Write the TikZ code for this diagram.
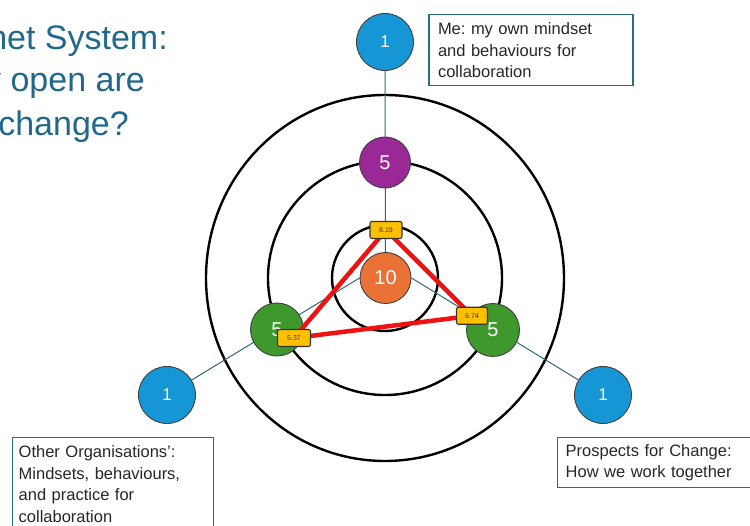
\documentclass[tikz,border=0pt]{standalone}
\usepackage{fontspec}
\setmainfont{Liberation Sans}
\frenchspacing

\definecolor{titleblue}{RGB}{33,104,138}
\definecolor{linkteal}{RGB}{46,104,124}
\definecolor{boxteal}{RGB}{44,108,128}
\definecolor{pinblue}{RGB}{22,150,212}
\definecolor{pinpurple}{RGB}{154,40,150}
\definecolor{pingreen}{RGB}{62,152,44}
\definecolor{pinorange}{RGB}{234,114,55}
\definecolor{scoreamber}{RGB}{255,192,0}
\definecolor{triangred}{RGB}{238,18,18}

\pgfdeclarelayer{rings}
\pgfdeclarelayer{tri}
\pgfdeclarelayer{tags}
\pgfsetlayers{rings,main,tri,tags}

\tikzset{
  ring/.style={draw=black, line width=2.4pt},
  link/.style={draw=linkteal, line width=1pt},
  pin/.style={circle, draw=black!75, line width=0.9pt, inner sep=0pt, text=white},
  bluepin/.style={pin, fill=pinblue, minimum size=57pt, font=\fontsize{17}{19}\selectfont},
  scorepin/.style={pin, minimum size=51pt, font=\fontsize{20}{22}\selectfont},
  scoretag/.style={draw=black!80, fill=scoreamber, rounded corners=2pt, line width=1.1pt,
    minimum width=32pt, minimum height=17pt, inner sep=0pt,
    font=\fontsize{7}{8}\selectfont, text=black!80},
  note/.style={draw=boxteal, line width=1.4pt, align=left,
    font=\fontsize{16.5}{21.5}\selectfont, text=black!85},
  title/.style={anchor=base east, inner sep=0pt, text=titleblue,
    font=\fontsize{34}{40}\selectfont},
  triedge/.style={draw=triangred, line width=4.5pt, line cap=round}
}

\begin{document}
\begin{tikzpicture}[x=1pt,y=-1pt]
\useasboundingbox (0,0) rectangle (750,526);

% title lines
\node[title] (t1) at (168,50) {net System:};
\node[title] (t2) at (145,92) {y open are};
\node[title] (t3) at (129,136) {change?};

% concentric rings
\begin{pgfonlayer}{rings}
  \draw[ring] (385,278) ellipse [x radius=179pt, y radius=183pt];
  \draw[ring] (385,278) circle [radius=117pt];
  \draw[ring] (385,278) circle [radius=53pt];
\end{pgfonlayer}

% score circles
\node[bluepin] (bT) at (385,42) {1};
\node[bluepin] (bL) at (167,395) {1};
\node[bluepin] (bR) at (603,395) {1};
\node[scorepin, fill=pinpurple] (pu) at (385,162.5) {5};
\node[scorepin, fill=pinorange] (or) at (385.5,278) {10};
\node[scorepin, fill=pingreen, minimum size=53pt] (gL) at (277,329.5) {5};
\node[scorepin, fill=pingreen, minimum size=53pt] (gR) at (493,330) {5};

% spokes
\begin{pgfonlayer}{rings}
  \draw[link] (bT) -- (or.north);
  \draw[link] (or.west) -- (bL);
  \draw[link] (or.east) -- (bR);
\end{pgfonlayer}

% score tags
\begin{pgfonlayer}{tags}
  \node[scoretag] (s1) at (386,230) {8.19};
  \node[scoretag, minimum width=33pt] (s2) at (294,338) {5.37};
  \node[scoretag, minimum width=31pt] (s3) at (472,315.8) {6.74};
\end{pgfonlayer}

% triangle between tags
\begin{pgfonlayer}{tri}
  \draw[triedge] (s1.center) -- (s2.center) -- (s3.center) -- cycle;
\end{pgfonlayer}

% descriptions
\node[note, anchor=north west, text width=186pt, inner xsep=9pt, minimum height=71pt]
  (me) at (428.3,14) {Me: my own mindset\\and behaviours for\\collaboration};
\node[note, anchor=north west, text width=189pt, inner xsep=6pt, inner ysep=8pt]
  (other) at (12,437) {Other Organisations’:\\Mindsets, behaviours,\\and practice for\\collaboration};
\node[note, anchor=north west, text width=186pt, inner xsep=8pt, minimum height=50pt]
  (pros) at (557,437) {Prospects for Change:\\How we work together};
\end{tikzpicture}
\end{document}
